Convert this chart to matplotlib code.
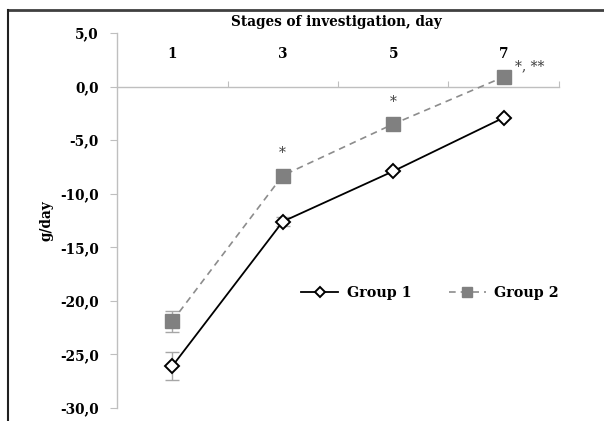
import matplotlib.pyplot as plt
from matplotlib.lines import Line2D

# data
days = ["1", "3", "5", "7"]
group1 = [-26.1, -12.6, -7.9, -2.9]
group1_err = [1.3, 0.4, 0.0, 0.0]
group2 = [-21.9, -8.3, -3.5, 0.9]
group2_err = [1.0, 0.0, 0.0, 0.0]
stars = ["", "*", "*", "*, **"]
y_ticks = [5, 0, -5, -10, -15, -20, -25, -30]

plt.rcParams['font.family'] = ['DejaVu Serif']
FS = 9.8

fig = plt.figure(figsize=(6.04, 4.21), dpi=100)
ax = fig.add_axes([117 / 604, 1 - 408 / 421, 442 / 604, 375 / 421])

x = list(range(len(days)))

# error bars first, then the lines with markers on top
ax.errorbar(x, group1, yerr=group1_err, fmt='none', ecolor='#a6a6a6',
            elinewidth=1, capsize=5, zorder=2)
ax.errorbar(x, group2, yerr=group2_err, fmt='none', ecolor='#a6a6a6',
            elinewidth=1, capsize=5, zorder=2)
ax.plot(x, group1, color='black', lw=1.3, marker='D', markersize=7.5,
        markerfacecolor='white', markeredgecolor='black',
        markeredgewidth=1.4, zorder=3, label='Group 1')
ax.plot(x, group2, color='#8c8c8c', lw=1.2, ls=(0, (4, 3)), marker='s',
        markersize=9.5, markerfacecolor='#808080',
        markeredgecolor='#808080', zorder=3, label='Group 2')

# significance marks above group 2
for i, s in enumerate(stars):
    if not s:
        continue
    if i == len(stars) - 1:
        ax.text(x[i] + 0.1, group2[i] + 1.0, s, ha='left', va='center',
                fontsize=10, color='#404040')
    else:
        ax.text(x[i], group2[i] + 2.1, s, ha='center', va='center',
                fontsize=10, color='#404040')

ax.set_xlim(-0.5, len(days) - 0.5)
ax.set_ylim(-30, 5)
ax.set_yticks(y_ticks)
ax.set_yticklabels([f"{v:.1f}".replace('.', ',') for v in y_ticks],
                   fontsize=FS, fontweight='bold')

# category axis crossing at zero, labels on top
ax.spines['bottom'].set_position(('data', 0))
ax.spines['top'].set_visible(False)
ax.spines['right'].set_visible(False)
for sp in ['bottom', 'left']:
    ax.spines[sp].set_color('#bfbfbf')
    ax.spines[sp].set_linewidth(1)
ax.set_xticks([i - 0.5 for i in range(len(days) + 1)][1:])
ax.tick_params(axis='x', direction='in', length=4, color='#bfbfbf',
               labelbottom=False)
ax.tick_params(axis='y', direction='out', length=5, color='#bfbfbf', pad=8)
for i, d in enumerate(days):
    ax.text(x[i], 3.0, d, ha='center', va='center', fontsize=FS,
            fontweight='bold')

ax.set_ylabel("g/day", fontsize=FS, fontweight='bold', labelpad=5)
fig.text(336 / 604, 1 - 22 / 421, "Stages of investigation, day",
         ha='center', va='center', fontsize=FS, fontweight='bold')

ax.legend(loc='center', bbox_to_anchor=(430 / 604, 1 - 293 / 421),
          bbox_transform=fig.transFigure, ncol=2, frameon=False,
          prop={'size': FS + 0.5, 'weight': 'bold'}, handlelength=2.6,
          columnspacing=2.6, handletextpad=0.6, markerscale=0.7)

# frame around the figure (top and left visible)
fig.add_artist(Line2D([8 / 604, 1], [1 - 10 / 421, 1 - 10 / 421],
                      transform=fig.transFigure, color='#404040', lw=2))
fig.add_artist(Line2D([8 / 604, 8 / 604], [0, 1 - 10 / 421],
                      transform=fig.transFigure, color='#202020', lw=1.5))

fig.savefig("out.png", dpi=100)
